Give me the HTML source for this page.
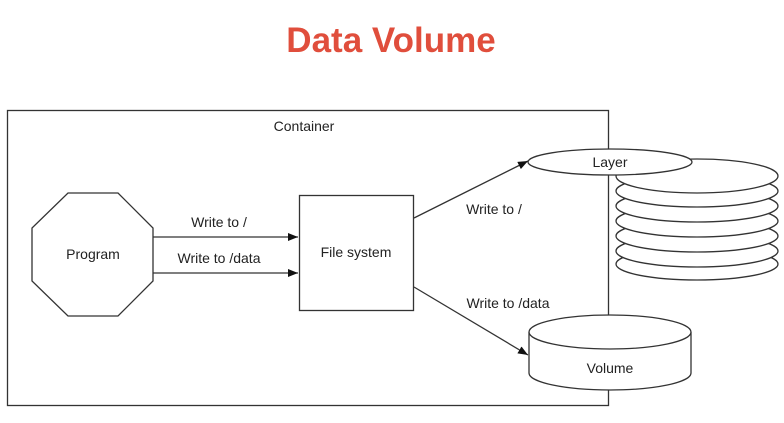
<!DOCTYPE html>
<html><head><style>
body{margin:0;background:#fff;width:784px;height:418px;overflow:hidden}
</style></head><body>
<svg width="784" height="418" xmlns="http://www.w3.org/2000/svg" font-family="Liberation Sans, Arial, sans-serif">
<defs><marker id="a" markerWidth="10" markerHeight="8" refX="10" refY="4" orient="auto" markerUnits="userSpaceOnUse"><path d="M0,0 L10,4 L0,8 z" fill="#111"/></marker></defs>
<text x="391" y="52" text-anchor="middle" font-size="35" font-weight="bold" fill="#e04e3c">Data Volume</text>
<g stroke="#333" stroke-width="1.3" fill="none">
<rect x="7.5" y="110.5" width="601" height="295"/>
<polygon points="68,193 118,193 153,228 153,281 118,316 68,316 32,281 32,228" fill="#fff"/>
<rect x="299.5" y="195.5" width="114" height="115" fill="#fff"/>
<line x1="153" y1="237" x2="298" y2="237" marker-end="url(#a)"/>
<line x1="153" y1="273" x2="298" y2="273" marker-end="url(#a)"/>
<line x1="414" y1="218" x2="528" y2="161" marker-end="url(#a)"/>
<line x1="414" y1="287" x2="528" y2="355" marker-end="url(#a)"/>
<g fill="#fff">
<ellipse cx="697" cy="264" rx="81" ry="16"/>
<ellipse cx="697" cy="251" rx="81" ry="16"/>
<ellipse cx="697" cy="236" rx="81" ry="16"/>
<ellipse cx="697" cy="221" rx="81" ry="16"/>
<ellipse cx="697" cy="206" rx="81" ry="16"/>
<ellipse cx="697" cy="191" rx="81" ry="16"/>
<ellipse cx="697" cy="176" rx="81" ry="17"/>
<ellipse cx="610" cy="162" rx="82" ry="13"/>
<path d="M529,332 L529,373 A81,17 0 0 0 691,373 L691,332"/>
<ellipse cx="610" cy="332" rx="81" ry="17"/>
</g>
</g>
<g font-size="14" fill="#222" text-anchor="middle">
<text x="304" y="131">Container</text>
<text x="93" y="259">Program</text>
<text x="219" y="227">Write to /</text>
<text x="219" y="263">Write to /data</text>
<text x="356" y="257">File system</text>
<text x="494" y="214">Write to /</text>
<text x="508" y="308">Write to /data</text>
<text x="610" y="167">Layer</text>
<text x="610" y="373">Volume</text>
</g>
</svg>
</body></html>
